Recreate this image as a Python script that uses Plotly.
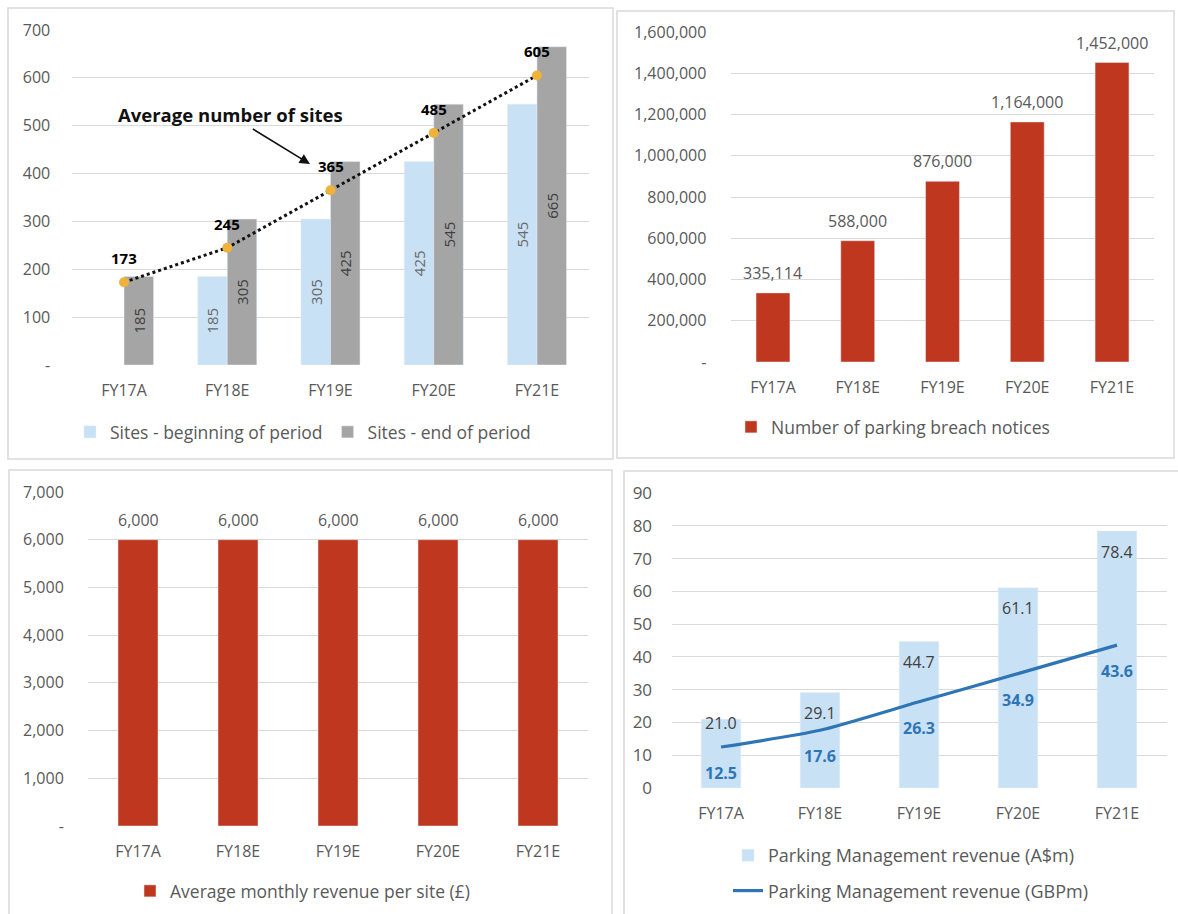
import plotly.graph_objects as go

W, H = 1178, 914

# ---- data -------------------------------------------------------------
years = ["FY17A", "FY18E", "FY19E", "FY20E", "FY21E"]

sites_begin = [None, 185, 305, 425, 545]
sites_end = [185, 305, 425, 545, 665]
sites_avg = [173, 245, 365, 485, 605]

breach_notices = [335114, 588000, 876000, 1164000, 1452000]

monthly_rev_per_site = [6000, 6000, 6000, 6000, 6000]

pm_rev_aud = [21.0, 29.1, 44.7, 61.1, 78.4]
pm_rev_gbp = [12.5, 17.6, 26.3, 34.9, 43.6]

sites_tickvals = [0, 100, 200, 300, 400, 500, 600, 700]
sites_ticktext = ["-", "100", "200", "300", "400", "500", "600", "700"]
notices_tickvals = [0, 200000, 400000, 600000, 800000, 1000000, 1200000, 1400000, 1600000]
notices_ticktext = ["-", "200,000", "400,000", "600,000", "800,000",
                    "1,000,000", "1,200,000", "1,400,000", "1,600,000"]
rev_tickvals = [0, 1000, 2000, 3000, 4000, 5000, 6000, 7000]
rev_ticktext = ["-", "1,000", "2,000", "3,000", "4,000", "5,000", "6,000", "7,000"]
pm_tickvals = [0, 10, 20, 30, 40, 50, 60, 70, 80, 90]
pm_ticktext = ["0", "10", "20", "30", "40", "50", "60", "70", "80", "90"]

# ---- styling ----------------------------------------------------------
FONT = "Open Sans"
TXT = "#595959"
RED = "#c0371f"
LIGHT_BLUE = "#c9e1f5"
GREY = "#a5a5a5"
LINE_BLUE = "#2e75b6"
ORANGE = "#efb23b"
GRID = "#d9d9d9"


def fx(px):
    return px / W


def fy(py):
    return 1 - py / H


fig = go.Figure()

# Panel 1: number of sites
fig.add_trace(go.Bar(
    x=years, y=sites_begin, name="Sites - beginning of period",
    marker_color=LIGHT_BLUE, width=0.286, offset=-0.286,
    text=sites_begin, texttemplate="%{y}", textposition="inside",
    insidetextanchor="middle", textangle=-90,
    textfont=dict(size=15, color="#6a6a6a", family=FONT),
    xaxis="x", yaxis="y", legend="legend",
))
fig.add_trace(go.Bar(
    x=years, y=sites_end, name="Sites - end of period",
    marker_color=GREY, width=0.286, offset=0.0,
    text=sites_end, texttemplate="%{y}", textposition="inside",
    insidetextanchor="middle", textangle=-90,
    textfont=dict(size=15, color="#404040", family=FONT),
    xaxis="x", yaxis="y", legend="legend",
))
fig.add_trace(go.Scatter(
    x=years, y=sites_avg, mode="lines+markers", name="Average number of sites",
    line=dict(color="#111111", width=3, dash="dot"),
    marker=dict(color=ORANGE, size=10),
    showlegend=False, xaxis="x", yaxis="y",
))

# Panel 2: parking breach notices
fig.add_trace(go.Bar(
    x=years, y=breach_notices, name="Number of parking breach notices",
    marker_color=RED, width=0.40,
    xaxis="x2", yaxis="y2", legend="legend2",
))

# Panel 3: average monthly revenue per site
fig.add_trace(go.Bar(
    x=years, y=monthly_rev_per_site, name="Average monthly revenue per site (£)",
    marker_color=RED, width=0.40,
    xaxis="x3", yaxis="y3", legend="legend3",
))

# Panel 4: parking management revenue
fig.add_trace(go.Bar(
    x=years, y=pm_rev_aud, name="Parking Management revenue (A$m)",
    marker_color=LIGHT_BLUE, width=0.40,
    xaxis="x4", yaxis="y4", legend="legend4", legendgroup="aud",
))
fig.add_trace(go.Scatter(
    x=years, y=pm_rev_gbp, mode="lines", name="Parking Management revenue (GBPm)",
    line=dict(color=LINE_BLUE, width=3.2, shape="spline", smoothing=0.6),
    xaxis="x4", yaxis="y4", legend="legend4", legendgroup="gbp",
))

# ---- axes -------------------------------------------------------------
def xaxis(domain, anchor):
    return dict(
        domain=domain, anchor=anchor, type="category", range=[-0.5, 4.5],
        showgrid=False, showline=False, zeroline=False, automargin=False,
        ticks="outside", ticklen=11, tickcolor="rgba(0,0,0,0)",
        tickfont=dict(family=FONT, size=16, color=TXT), fixedrange=True,
    )


def yaxis(domain, anchor, rng, vals, text, standoff, size=16):
    return dict(
        domain=domain, anchor=anchor, range=rng,
        tickmode="array", tickvals=vals, ticktext=text,
        showgrid=True, gridcolor=GRID, gridwidth=1.3,
        showline=False, zeroline=False, automargin=False,
        ticks="outside", ticklen=standoff, tickcolor="rgba(0,0,0,0)",
        tickfont=dict(family=FONT, size=size, color=TXT), fixedrange=True,
    )


fig.update_layout(
    xaxis=xaxis([fx(72.4), fx(588.6)], "y"),
    yaxis=yaxis([fy(365), fy(30)], "x", [0, 700], sites_tickvals, sites_ticktext, 18),
    xaxis2=xaxis([fx(730.6), fx(1154.4)], "y2"),
    yaxis2=yaxis([fy(362), fy(32)], "x2", [0, 1600000], notices_tickvals, notices_ticktext, 20),
    xaxis3=xaxis([fx(88), fx(588)], "y3"),
    yaxis3=yaxis([fy(826), fy(492)], "x3", [0, 7000], rev_tickvals, rev_ticktext, 20),
    xaxis4=xaxis([fx(671.5), fx(1166.5)], "y4"),
    yaxis4=yaxis([fy(788), fy(493)], "x4", [0, 90], pm_tickvals, pm_ticktext, 15, 17),
)

# ---- legends ----------------------------------------------------------
def leg_font(size):
    return dict(family=FONT, size=size, color=TXT)


fig.update_layout(
    legend=dict(orientation="h", x=fx(70), y=fy(432), xanchor="left", yanchor="middle",
                font=leg_font(17.5), bgcolor="rgba(0,0,0,0)",
                itemclick=False, itemdoubleclick=False),
    legend2=dict(orientation="h", x=fx(731), y=fy(427), xanchor="left", yanchor="middle",
                 font=leg_font(17.5), bgcolor="rgba(0,0,0,0)",
                 itemclick=False, itemdoubleclick=False),
    legend3=dict(orientation="h", x=fx(130), y=fy(891), xanchor="left", yanchor="middle",
                 font=leg_font(17.5), bgcolor="rgba(0,0,0,0)",
                 itemclick=False, itemdoubleclick=False),
    legend4=dict(orientation="v", x=fx(728), y=fy(837), xanchor="left", yanchor="top",
                 font=leg_font(18), bgcolor="rgba(0,0,0,0)", tracegroupgap=9,
                 itemclick=False, itemdoubleclick=False),
)

# ---- value labels -----------------------------------------------------
ann = []
for cat, v in zip(years, sites_avg):
    ann.append(dict(x=cat, y=v, xref="x", yref="y", text=f"<b>{v}</b>", showarrow=False,
                    yanchor="middle", yshift=24, font=dict(family=FONT, size=15, color="#000000")))
for cat, v in zip(years, breach_notices):
    ann.append(dict(x=cat, y=v, xref="x2", yref="y2", text=f"{v:,}", showarrow=False,
                    yanchor="middle", yshift=20, font=dict(family=FONT, size=16, color=TXT)))
for cat, v in zip(years, monthly_rev_per_site):
    ann.append(dict(x=cat, y=v, xref="x3", yref="y3", text=f"{v:,}", showarrow=False,
                    yanchor="middle", yshift=20, font=dict(family=FONT, size=16, color=TXT)))
aud_label_shift = [-4, -20, -21, -20, -21]
for cat, v, s in zip(years, pm_rev_aud, aud_label_shift):
    ann.append(dict(x=cat, y=v, xref="x4", yref="y4", text=f"{v:.1f}", showarrow=False,
                    yanchor="middle", yshift=s, font=dict(family=FONT, size=16, color="#404040")))
for cat, v in zip(years, pm_rev_gbp):
    ann.append(dict(x=cat, y=v, xref="x4", yref="y4", text=f"<b>{v:.1f}</b>", showarrow=False,
                    yanchor="middle", yshift=-26, font=dict(family=FONT, size=16, color=LINE_BLUE)))

# callout for the average line
ann.append(dict(
    x=fx(310), y=fy(164), xref="paper", yref="paper",
    ax=-80, ay=-49, axref="pixel", ayref="pixel",
    text="<b>Average number of sites</b>", showarrow=True,
    arrowhead=2, arrowsize=1.3, arrowwidth=1.6, arrowcolor="#111111",
    font=dict(family=FONT, size=18.5, color="#111111"),
))
fig.update_layout(annotations=ann)

# ---- panel frames -----------------------------------------------------
frames = [(8, 8, 613, 459), (617, 11, 1174, 458), (9, 470, 612, 930), (624, 471, 1190, 930)]
fig.update_layout(shapes=[
    dict(type="rect", xref="paper", yref="paper",
         x0=fx(a), y0=fy(d), x1=fx(c), y1=fy(b),
         line=dict(color=GRID, width=1.5), fillcolor="rgba(0,0,0,0)", layer="below")
    for a, b, c, d in frames
])

fig.update_layout(
    width=W, height=H, margin=dict(l=0, r=0, t=0, b=0, autoexpand=False),
    paper_bgcolor="white", plot_bgcolor="white",
    barmode="overlay", hovermode=False,
    font=dict(family=FONT, color=TXT, size=15),
    uniformtext=dict(minsize=15, mode="show"),
)

fig.write_html("out.html", config={"displayModeBar": False})
